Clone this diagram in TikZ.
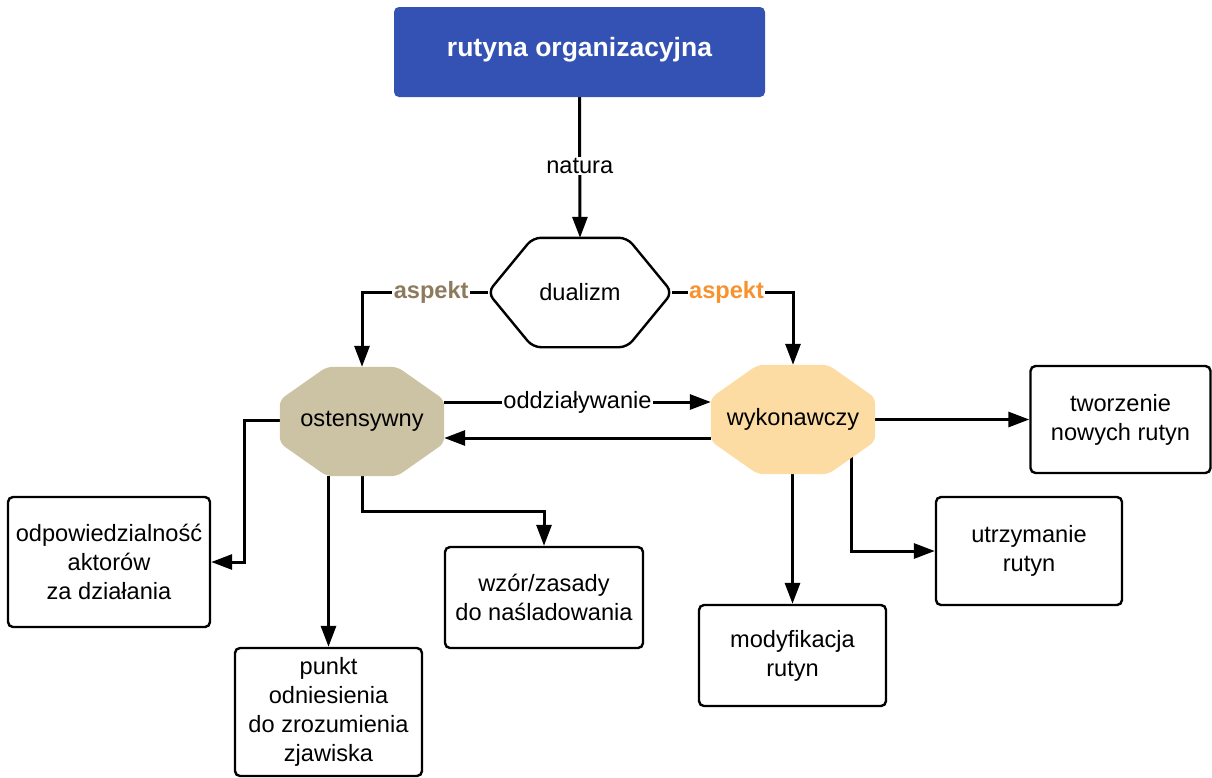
\documentclass[tikz,border=0pt]{standalone}
\usepackage{fontspec}
\setmainfont{Liberation Sans}
\usetikzlibrary{arrows.meta,calc}
\pgfdeclarelayer{bg}
\pgfsetlayers{bg,main}
\definecolor{titleblue}{HTML}{3452B4}
\definecolor{ostfill}{HTML}{CCC3A4}
\definecolor{wykfill}{HTML}{FDDCA3}
\definecolor{ostlabel}{HTML}{8C7B5F}
\definecolor{wyklabel}{HTML}{F7932F}

% filled octagon drawn around a rectangular node
\newcommand\octfill[2]{%
  \fill[#2, rounded corners=6pt]
    ($(#1.north west)+(47,0)$) -- ($(#1.north east)+(-47,0)$) --
    ($(#1.north east)+(0,33)$) -- ($(#1.south east)+(0,-33)$) --
    ($(#1.south east)+(-47,0)$) -- ($(#1.south west)+(47,0)$) --
    ($(#1.south west)+(0,-33)$) -- ($(#1.north west)+(0,33)$) -- cycle;}

\begin{document}
\begin{tikzpicture}[x=1pt,y=-1pt,
  every node/.style={font=\fontsize{23.6}{29}\selectfont},
  box/.style={draw, line width=2.4pt, rounded corners=5pt, align=center, inner sep=0pt},
  titlebox/.style={fill=titleblue, rounded corners=5pt, inner sep=0pt},
  link/.style={line width=3pt, -{Triangle[length=21pt,width=15pt]}},
  lbl/.style={fill=white, inner sep=1.5pt},
  asp/.style={lbl, font=\fontsize{23.6}{29}\selectfont\bfseries},
  oct/.style={inner sep=0pt, minimum width=164pt, minimum height=109pt}]

\useasboundingbox (0,0) rectangle (1212,777);

% nodes
\node[titlebox, minimum width=371pt, minimum height=90pt] (top) at (579.5,52) {};
\node[text=white, font=\fontsize{26.5}{32}\selectfont\bfseries] (title) at (579.5,50) {rutyna organizacyjna};
\node[inner sep=0pt, minimum width=184pt, minimum height=109pt] (dual) at (580,292.5) {dualizm};
\node[oct] (ost) at (362,421.5) {ostensywny};
\node[oct] (wyk) at (793,419.5) {wykonawczy};

\node[box, minimum width=202pt, minimum height=130pt] (odp) at (109,562)
  {odpowiedzialność\\aktorów\\za działania};
\node[box, minimum width=187pt, minimum height=128pt] (pkt) at (328.5,712)
  {punkt\\odniesienia\\do zrozumienia\\zjawiska};
\node[box, minimum width=198pt, minimum height=101pt] (wzor) at (544,597.5)
  {wzór/zasady\\do naśladowania};
\node[box, minimum width=187pt, minimum height=101pt] (mod) at (792.5,655.5)
  {modyfikacja\\rutyn};
\node[box, minimum width=186pt, minimum height=108pt] (utrz) at (1029,551)
  {utrzymanie\\rutyn};
\node[box, minimum width=180pt, minimum height=107pt] (tworz) at (1120.5,419.5)
  {tworzenie\\nowych rutyn};

\begin{pgfonlayer}{bg}
  % connectors
  \draw[link] (top.south) -- node[lbl, pos=0.49] {natura} (dual.north);
  \draw[link] (dual.west) -- node[asp, text=ostlabel, pos=0.45] {aspekt}
    (ost.north |- dual.west) -- (ost.north);
  \draw[link] (dual.east) -- node[asp, text=wyklabel, pos=0.45] {aspekt}
    (wyk.north |- dual.east) -- (wyk.north);
  \draw[link] ($(ost.east)+(0,-19.5)$) -- node[lbl] {oddziaływanie} ($(wyk.west)+(0,-17.5)$);
  \draw[link] ($(wyk.west)+(0,18.5)$) -- ($(ost.east)+(0,16.5)$);
  \draw[link] ($(ost.west)+(0,-1.5)$) -- ++(-35,0) |- (odp.east);
  \draw[link] (pkt.north |- ost.south) -- (pkt.north);
  \draw[link] (ost.south) -- ++(0,35) -| (wzor.north);
  \draw[link] (wyk.east) -- (tworz.west);
  \draw[link] (mod.north |- wyk.south) -- (mod.north);
  \draw[link] ($(wyk.center)+(58,0)$) |- (utrz.west);
  % shapes
  \draw[line width=2.4pt, fill=white, rounded corners=8pt]
    (dual.west) -- ($(dual.north west)+(45,0)$) -- ($(dual.north east)+(-45,0)$) --
    (dual.east) -- ($(dual.south east)+(-45,0)$) -- ($(dual.south west)+(45,0)$) -- cycle;
  \octfill{ost}{ostfill}
  \octfill{wyk}{wykfill}
\end{pgfonlayer}
\end{tikzpicture}
\end{document}
